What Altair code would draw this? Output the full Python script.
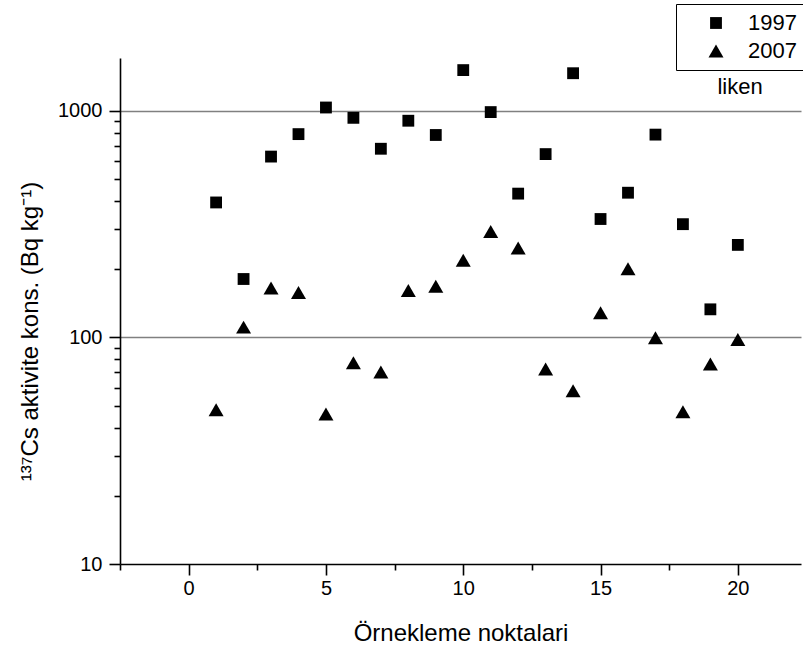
import altair as alt
import pandas as pd

# ---- data ----
sample_points = list(range(1, 21))
cs_1997 = [394, 181, 628, 789, 1034, 931, 680, 904, 782, 1512,
           987, 431, 644, 1465, 333, 435, 785, 316, 133, 256]
cs_2007 = [47.9, 111, 165, 158, 45.9, 77.3, 70.3, 161, 168, 219,
           293, 248, 72.6, 58.2, 128.5, 201, 99.7, 47, 76.3, 98]
series_names = ["1997", "2007"]
series_shapes = ["square", "triangle-up"]
series_sizes = [140, 225]
x_tick_values = [-2.5, 0, 2.5, 5, 7.5, 10, 12.5, 15, 17.5, 20]
y_tick_values = [10, 20, 30, 40, 50, 60, 70, 80, 90,
                 100, 200, 300, 400, 500, 600, 700, 800, 900, 1000]
annotation_text = ["liken"]

rows = []
for name, vals in zip(series_names, [cs_1997, cs_2007]):
    for x, v in zip(sample_points, vals):
        rows.append({"nokta": x, "deger": v, "yil": name})
df = pd.DataFrame(rows)

FONT = "Liberation Sans"
MAJOR_Y = "indexof([10,100,1000], datum.value) >= 0"
MAJOR_X = "datum.value % 5 == 0"

legend = alt.Legend(
    title=None, orient="none", legendX=556, legendY=-54,
    strokeColor="black", padding=8, rowPadding=6,
    labelFont=FONT, labelFontSize=22, labelColor="black",
    symbolOffset=21, labelOffset=21,
    symbolFillColor="black", symbolStrokeWidth=0,
)

points = alt.Chart(df).mark_point(
    filled=True, opacity=1, color="black", strokeWidth=0
).encode(
    x=alt.X(
        "nokta:Q",
        scale=alt.Scale(domain=[-2.5, 22.3], nice=False, zero=False),
        axis=alt.Axis(
            values=x_tick_values,
            labelExpr=f"{MAJOR_X} ? format(datum.value, 'd') : ''",
            title="Örnekleme noktalari",
            grid=False,
            domainColor="black", domainWidth=1.6,
            tickColor="black", tickWidth=1.6,
            tickSize={"condition": {"test": MAJOR_X, "value": 11}, "value": 6},
            labelFont=FONT, labelFontSize=20, labelColor="black", labelPadding=3,
            labelFlush=False, labelOverlap=False,
            titleFont=FONT, titleFontSize=24, titleFontWeight="normal",
            titleColor="black", titleY=69, titleBaseline="middle",
        ),
    ),
    y=alt.Y(
        "deger:Q",
        scale=alt.Scale(type="log", domain=[10, 1710], nice=False),
        axis=alt.Axis(
            values=y_tick_values,
            labelExpr=f"{MAJOR_Y} ? format(datum.value, 'd') : ''",
            title="¹³⁷Cs aktivite kons. (Bq kg⁻¹)",
            grid=True, gridColor="#808080", gridWidth=1.3,
            gridOpacity={"condition": {"test": "datum.value == 100 || datum.value == 1000", "value": 1}, "value": 0},
            domainColor="black", domainWidth=1.6,
            tickColor="black", tickWidth=1.6,
            tickSize={"condition": {"test": MAJOR_Y, "value": 11}, "value": 6},
            labelFont=FONT, labelFontSize=20, labelColor="black", labelPadding=7,
            labelFlush=False, labelOverlap=False,
            titleFont=FONT, titleFontSize=24, titleFontWeight="normal",
            titleColor="black", titleAngle=270, titleX=-90, titleY=273,
            titleAlign="center", titleBaseline="middle",
        ),
    ),
    shape=alt.Shape("yil:N", scale=alt.Scale(domain=series_names, range=series_shapes), legend=legend),
    size=alt.Size("yil:N", scale=alt.Scale(domain=series_names, range=series_sizes), legend=legend),
)

liken = alt.Chart(pd.DataFrame({"etiket": annotation_text})).mark_text(
    font=FONT, fontSize=22, color="black", align="center", baseline="middle"
).encode(
    x=alt.value(620), y=alt.value(29), text="etiket:N"
)

chart = alt.layer(points, liken).properties(
    width=681, height=506,
    autosize=alt.AutoSizeParams(type="none"),
    padding={"left": 120, "top": 58, "right": 2, "bottom": 84},
).configure_view(strokeWidth=0)

chart.save("out.html", embed_options={"renderer": "svg", "actions": False})
